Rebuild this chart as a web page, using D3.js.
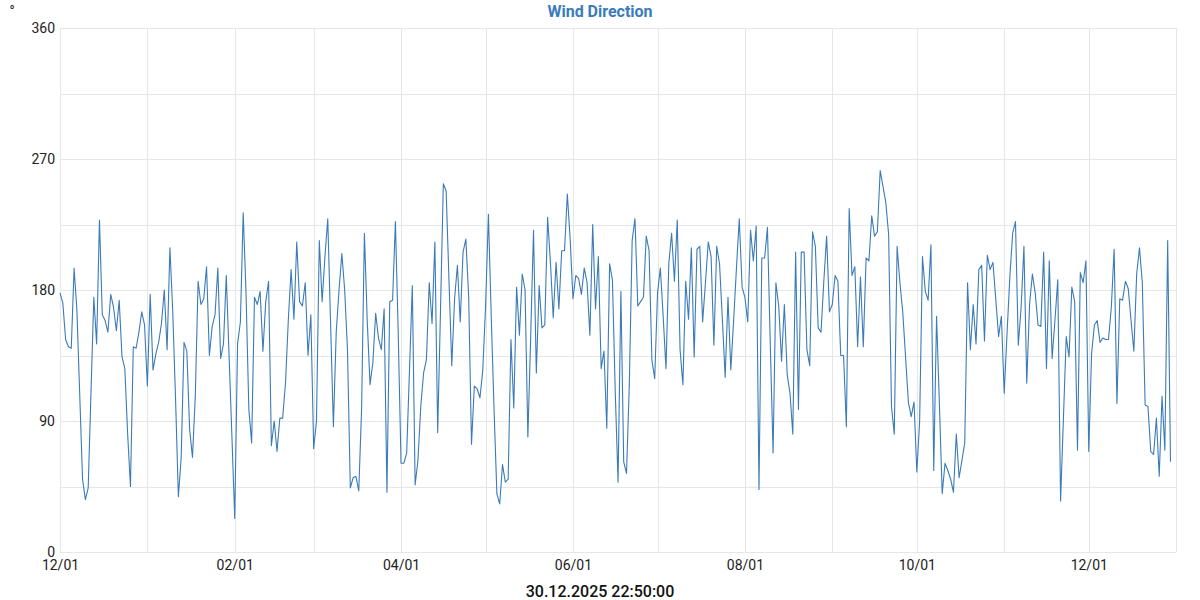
<!DOCTYPE html>
<html>
<head>
<meta charset="utf-8">
<script src="https://cdn.jsdelivr.net/npm/d3@7"></script>
<style>
  html, body { margin: 0; padding: 0; background: #fff; }
  svg { display: block; font-family: Roboto, "Noto Sans", sans-serif; }
</style>
</head>
<body>
<svg id="chart" width="1200" height="600"></svg>
<script>
// ---- data ----
const chartTitle = "Wind Direction";
const unitLabel = "°";
const timestampLabel = "30.12.2025 22:50:00";
const startDate = "2024-12-01";
const domainEnd = "2025-12-31T22:50:00";
const yTickLabels = [0, 90, 180, 270, 360];
const yGridValues = [0, 45, 90, 135, 180, 225, 270, 315, 360];
const xTickLabelFormat = "%m/%d";
// daily wind direction (degrees), 2024-12-01 .. 2025-12-30
const windDirection = [
178,171,146,141,140,195,166,108,50,36,44,110,175,143,228,163,159,151,177,168,
152,173,134,126,81,45,141,140,151,165,156,114,177,125,136,144,157,180,139,209,
165,105,38,65,144,138,84,65,107,186,170,174,196,135,155,163,195,133,143,190,
134,79,23,143,158,233,178,98,75,175,170,179,138,172,186,73,90,69,92,92,
116,159,194,160,213,172,169,185,135,163,71,90,214,172,203,229,157,86,151,180,
205,180,139,44,51,52,42,98,219,159,115,130,164,147,139,167,41,172,173,227,
150,61,61,68,125,183,46,63,100,123,132,185,157,213,82,166,253,248,187,128,
174,197,158,206,215,175,74,114,112,106,125,169,232,162,98,40,33,60,48,50,
146,99,182,149,191,180,79,148,221,123,183,154,156,230,199,161,199,167,207,207,
246,215,174,190,188,177,195,185,149,225,167,203,126,138,85,198,187,110,48,179,
62,54,116,214,229,169,172,175,217,207,132,119,178,195,162,126,198,219,186,228,
139,115,186,160,209,134,208,210,158,185,213,203,142,210,198,160,120,175,125,159,
195,229,182,175,158,221,200,224,43,202,202,223,143,68,185,169,131,170,122,109,
81,206,98,206,206,139,128,220,210,154,151,186,217,165,170,190,186,135,135,86,
236,190,196,141,189,141,202,200,231,217,220,262,251,240,218,100,81,210,185,165,
134,103,93,103,55,90,203,179,173,211,56,162,102,40,61,56,50,41,81,51,
63,75,185,139,170,143,194,197,145,204,194,199,174,148,162,109,150,189,219,227,
142,168,210,116,170,191,178,156,155,206,126,200,133,159,187,35,91,148,134,182,
172,70,192,185,200,69,136,156,159,144,147,146,146,168,208,102,174,173,186,181,
159,138,191,209,185,101,100,69,67,92,52,107,70,214,62
];

// ---- chart ----
const W = 1200, H = 600;
const margin = { top: 28, right: 24, bottom: 48, left: 60 };
const innerW = W - margin.left - margin.right;
const innerH = H - margin.top - margin.bottom;
const lineColor = "#3b7bb8";
const gridColor = "#e6e6e6";

const parseDay = d3.timeParse("%Y-%m-%d");
const t0 = parseDay(startDate);
const points = windDirection.map((v, i) => ({ date: d3.timeDay.offset(t0, i), value: v }));

const svg = d3.select("#chart");
const g = svg.append("g").attr("transform", `translate(${margin.left},${margin.top})`);

const x = d3.scaleTime()
  .domain([t0, d3.isoParse(domainEnd)])
  .range([0, innerW]);
const y = d3.scaleLinear().domain([0, 360]).range([innerH, 0]);

// horizontal grid
g.append("g").selectAll("line").data(yGridValues).join("line")
  .attr("x1", 0).attr("x2", innerW)
  .attr("y1", d => Math.round(y(d)) + 0.5).attr("y2", d => Math.round(y(d)) + 0.5)
  .attr("stroke", gridColor).attr("stroke-width", 1);

// vertical grid (every month)
const months = x.ticks(d3.timeMonth.every(1));
g.append("g").selectAll("line").data(months).join("line")
  .attr("x1", d => Math.round(x(d)) + 0.5).attr("x2", d => Math.round(x(d)) + 0.5)
  .attr("y1", 0).attr("y2", innerH)
  .attr("stroke", gridColor).attr("stroke-width", 1);
// right border
g.append("line")
  .attr("x1", innerW + 0.5).attr("x2", innerW + 0.5).attr("y1", 0).attr("y2", innerH)
  .attr("stroke", gridColor);

// y axis labels
const yAxis = d3.axisLeft(y).tickValues(yTickLabels).tickSize(0).tickPadding(5);
const yG = g.append("g").call(yAxis);
yG.select(".domain").remove();
yG.selectAll("text").attr("font-size", 14).attr("fill", "#222")
  .attr("font-family", "Roboto, sans-serif");

// x axis labels (every two months)
const xAxis = d3.axisBottom(x)
  .tickValues(months.filter((d, i) => i % 2 === 0))
  .tickFormat(d3.timeFormat(xTickLabelFormat))
  .tickSize(0).tickPadding(8);
const xG = g.append("g").attr("transform", `translate(0,${innerH})`).call(xAxis);
xG.select(".domain").remove();
xG.selectAll("text").attr("font-size", 14).attr("fill", "#222")
  .attr("font-family", "Roboto, sans-serif");

// line
const line = d3.line().x(d => x(d.date)).y(d => y(d.value));
g.append("path").datum(points)
  .attr("fill", "none").attr("stroke", lineColor).attr("stroke-width", 1.1)
  .attr("stroke-linejoin", "round")
  .attr("d", line);

// title
svg.append("text").attr("x", 600).attr("y", 17).attr("text-anchor", "middle")
  .attr("font-size", 16).attr("font-weight", "bold").attr("fill", "#3a7bbd")
  .text(chartTitle);

// unit
svg.append("text").attr("x", 12).attr("y", 16).attr("text-anchor", "middle")
  .attr("font-size", 14).attr("fill", "#222").text(unitLabel);

// timestamp
svg.append("text").attr("x", 600).attr("y", 597).attr("text-anchor", "middle")
  .attr("font-size", 16).attr("font-weight", 500).attr("fill", "#111")
  .text(timestampLabel);
</script>
</body>
</html>
